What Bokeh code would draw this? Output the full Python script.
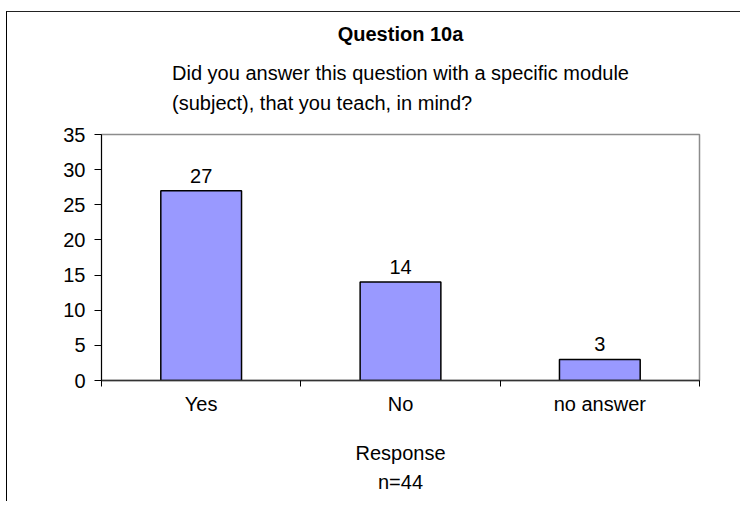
from bokeh.plotting import figure
from bokeh.models import (Range1d, FixedTicker, CustomJSTickFormatter, Title,
                          ColumnDataSource)
from bokeh.core.properties import value
from bokeh.embed import file_html
from bokeh.resources import INLINE

# ---- data ----
title_text = "Question 10a"
subtitle_text = "Did you answer this question with a specific module\n(subject), that you teach, in mind?"
categories = ["Yes", "No", "no answer"]
counts = [27, 14, 3]
y_ticks = [0, 5, 10, 15, 20, 25, 30, 35]
x_axis_label = "Response\nn=44"

FONT = "Liberation Sans"
FS = "20px"

centers = [i + 0.5 for i in range(len(categories))]
bounds = list(range(len(categories) + 1))
src = ColumnDataSource(dict(x=centers, top=counts, lab=[str(c) for c in counts]))

p = figure(width=734, height=490, output_backend="svg", toolbar_location=None,
           x_range=Range1d(0, len(categories)), y_range=Range1d(0, max(y_ticks)),
           min_border_left=94, min_border_top=122, min_border_right=42,
           min_border_bottom=122)

p.styles = {"border-left": "1px solid black", "border-top": "1px solid #222",
            "margin-left": "6px", "margin-top": "11px"}

# titles
p.title.text = title_text
p.title.align = "center"
p.title.text_font = FONT
p.title.text_font_size = FS
p.title.text_font_style = "bold"
p.title.text_color = "black"
p.title.standoff = -10
p.add_layout(Title(text=subtitle_text, align="center", text_font=FONT,
                   text_font_size=FS, text_font_style="normal",
                   text_color="black", text_line_height=1.35, standoff=41),
             "above")

p.xgrid.visible = False
p.ygrid.visible = False
p.outline_line_color = "#8c8c8c"
p.outline_line_width = 1.5

p.vbar(x="x", top="top", width=0.405, source=src, fill_color="#9999FF",
       line_color="black", line_width=1.5)
p.text(x="x", y="top", text="lab", source=src, text_align="center",
       text_baseline="alphabetic", y_offset=-15, text_font=value(FONT),
       text_font_size=FS, text_color="black")

# y axis
ya = p.yaxis[0]
ya.ticker = FixedTicker(ticks=y_ticks)
ya.major_tick_in = 0
ya.major_tick_out = 7
ya.minor_tick_out = 0
ya.minor_tick_in = 0
ya.axis_line_color = "black"
ya.major_tick_line_color = "black"
ya.major_label_text_font = FONT
ya.major_label_text_font_size = FS
ya.major_label_text_color = "black"
ya.major_label_standoff = 9

# x axis
xa = p.xaxis[0]
xa.ticker = FixedTicker(ticks=centers, minor_ticks=bounds)
xa.formatter = CustomJSTickFormatter(args=dict(labels=categories),
                                     code="return labels[Math.floor(tick)];")
xa.major_tick_in = 0
xa.major_tick_out = 0
xa.minor_tick_in = 0
xa.minor_tick_out = 6
xa.minor_tick_line_color = "black"
xa.axis_line_color = "#333333"
xa.axis_line_width = 1.5
xa.major_label_text_font = FONT
xa.major_label_text_font_size = FS
xa.major_label_text_color = "black"
xa.major_label_standoff = 6
xa.axis_label = x_axis_label
xa.axis_label_text_font = FONT
xa.axis_label_text_font_size = FS
xa.axis_label_text_font_style = "normal"
xa.axis_label_text_color = "black"
xa.axis_label_text_line_height = 1.35
xa.axis_label_standoff = 24

open("out.html", "w").write(file_html(p, INLINE))
